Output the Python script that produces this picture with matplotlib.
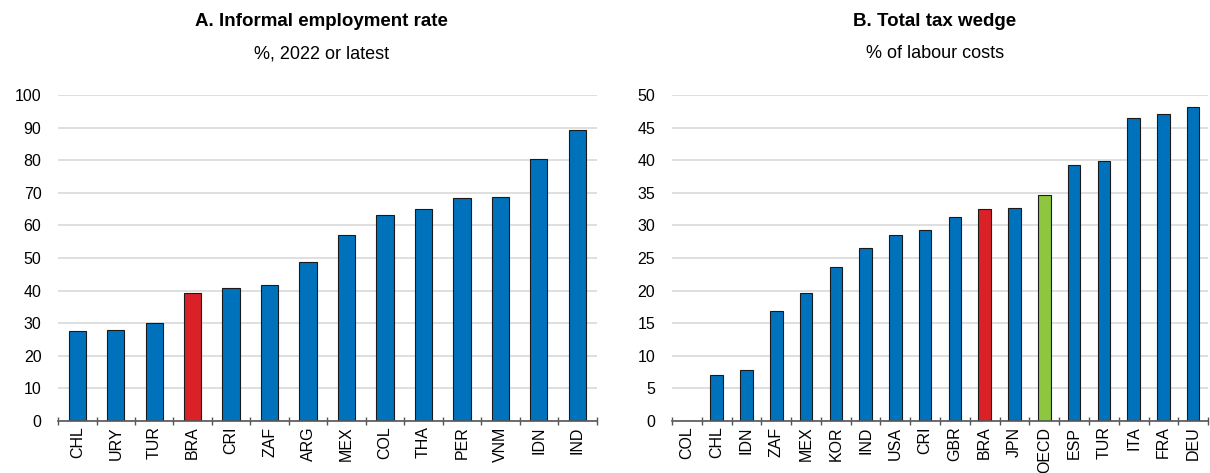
import numpy as np
import matplotlib
matplotlib.use("Agg")
import matplotlib.pyplot as plt
from matplotlib.font_manager import fontManager

# Panel A: informal employment rate
inf_labels = ["CHL", "URY", "TUR", "BRA", "CRI", "ZAF", "ARG", "MEX", "COL",
              "THA", "PER", "VNM", "IDN", "IND"]
inf_values = [27.6, 28.0, 30.0, 39.2, 40.9, 41.6, 48.9, 57.2, 63.2,
              65.1, 68.5, 68.7, 80.3, 89.2]

# Panel B: total tax wedge
tax_labels = ["COL", "CHL", "IDN", "ZAF", "MEX", "KOR", "IND", "USA", "CRI",
              "GBR", "BRA", "JPN", "OECD", "ESP", "TUR", "ITA", "FRA", "DEU"]
tax_values = [0.0, 7.0, 7.8, 16.9, 19.7, 23.6, 26.5, 28.5, 29.3,
              31.3, 32.5, 32.6, 34.6, 39.3, 39.9, 46.5, 47.1, 48.2]

BLUE = "#0072BC"
RED = "#DA2128"
GREEN = "#8DC63F"

names = {f.name for f in fontManager.ttflist}
fam = ["Liberation Sans Narrow"] if "Liberation Sans Narrow" in names else []
fam += ["Liberation Sans", "DejaVu Sans"]
plt.rcParams["font.family"] = fam


def colours(labels):
    out = []
    for lab in labels:
        if lab == "BRA":
            out.append(RED)
        elif lab == "OECD":
            out.append(GREEN)
        else:
            out.append(BLUE)
    return out


def panel(ax, labels, values, width, ymax, step):
    x = np.arange(len(labels))
    ax.bar(x, values, width=width, color=colours(labels),
           edgecolor="#1a1a1a", linewidth=0.8, zorder=3)
    ax.set_xlim(-0.5, len(labels) - 0.5)
    ax.set_ylim(0, ymax)
    ax.set_yticks(np.arange(0, ymax + 1, step))
    ax.set_xticks(x)
    ax.set_xticklabels(labels, rotation=90, fontsize=11.5)
    ax.set_xticks(np.arange(-0.5, len(labels)), minor=True)
    ax.tick_params(axis="x", which="major", length=0, pad=4)
    ax.tick_params(axis="x", which="minor", length=6, direction="inout",
                   color="#555555", width=1)
    ax.tick_params(axis="y", length=0, pad=12, labelsize=11.5)
    ax.grid(axis="y", color="#d9d9d9", linewidth=1.2, zorder=0)
    for s in ["left", "right", "top"]:
        ax.spines[s].set_visible(False)
    ax.spines["bottom"].set_color("#555555")
    ax.spines["bottom"].set_linewidth(1.2)
    ax.spines["bottom"].set_zorder(4)


fig = plt.figure(figsize=(12.1, 4.73), dpi=100)
ax1 = fig.add_axes([0.048, 0.110, 0.445, 0.689])
ax2 = fig.add_axes([0.5554, 0.110, 0.443, 0.689])

panel(ax1, inf_labels, inf_values, 0.45, 100, 10)
panel(ax2, tax_labels, tax_values, 0.42, 50, 5)

for ax, title, sub in [(ax1, "A. Informal employment rate", "%, 2022 or latest"),
                       (ax2, "B. Total tax wedge", "% of labour costs")]:
    ax.text(0.49, 1.20, title, transform=ax.transAxes, ha="center",
            va="bottom", fontsize=13.5, fontweight="bold")
    ax.text(0.49, 1.10, sub, transform=ax.transAxes, ha="center",
            va="bottom", fontsize=13)

fig.savefig("out.png", dpi=100)
